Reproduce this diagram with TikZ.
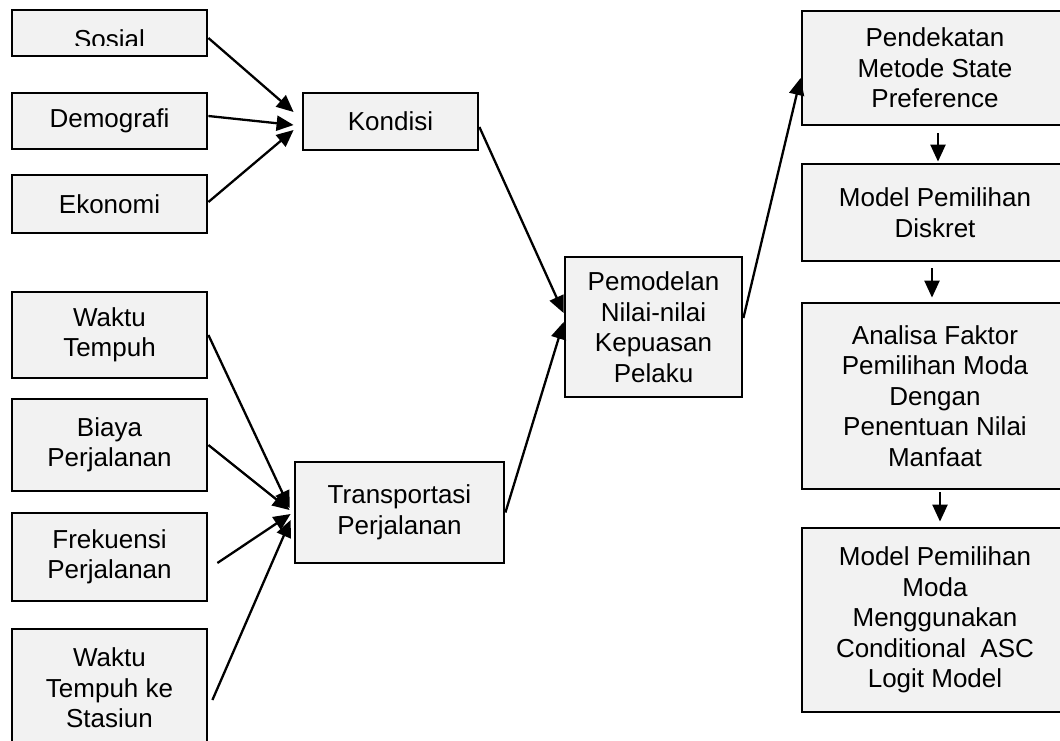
\documentclass[tikz,border=0pt]{standalone}
\usepackage{fontspec}
\setmainfont{Liberation Sans}
\usetikzlibrary{arrows.meta,positioning}
\definecolor{boxgray}{RGB}{242,242,242}

\tikzset{
  kotak/.style={draw, line width=2.8pt, fill=boxgray, align=center, inner sep=0pt,
    font=\fontsize{26}{30.5}\selectfont},
  panah/.style={line width=2.3pt, -{Triangle[length=17pt,width=15pt]}},
}

\begin{document}
\begin{tikzpicture}[x=1pt,y=-1pt]
    \clip (0,0) rectangle (1060,740);

    % Kondisi
    \node[kotak, minimum width=195pt, minimum height=46pt] (sosial) at (109.5,33) {};
    \begin{scope}
        \clip (12,10) rectangle (207,45);
        \node[font=\fontsize{26}{30.5}\selectfont, anchor=base, inner sep=0pt] (sosialtxt) at (109.5,48.5) {Sosial};
    \end{scope}
    \node[kotak, minimum width=195pt, minimum height=56pt] (demografi) at (109.5,121) {Demografi};
    \node[kotak, minimum width=195pt, minimum height=58pt] (ekonomi) at (109.5,204) {Ekonomi};
    \node[kotak, minimum width=175pt, minimum height=57pt] (kondisi) at (390.5,121.5) {Kondisi};

    % Transportasi
    \node[kotak, minimum width=195pt, minimum height=86pt] (waktu) at (109.5,335) {Waktu\\Tempuh};
    \node[kotak, minimum width=195pt, minimum height=92pt] (biaya) at (109.5,445) {Biaya\\Perjalanan};
    \node[kotak, minimum width=195pt, minimum height=88pt] (frek) at (109.5,557) {Frekuensi\\Perjalanan};
    \node[kotak, minimum width=195pt, minimum height=118pt] (stasiun) at (109.5,688) {Waktu\\Tempuh ke\\Stasiun};
    \node[kotak, minimum width=209pt, minimum height=101pt] (transp) at (399.5,512.5) {Transportasi\\Perjalanan};

    \node[kotak, minimum width=177pt, minimum height=140pt] (pemodelan) at (653.5,327) {Pemodelan\\Nilai-nilai\\Kepuasan\\Pelaku};

    % Kolom kanan
    \node[kotak, minimum width=266pt, minimum height=114pt] (pendekatan) at (935,68) {Pendekatan\\Metode State\\Preference};
    \node[kotak, minimum width=266pt, minimum height=97pt] (diskret) at (935,212.5) {Model Pemilihan\\Diskret};
    \node[kotak, minimum width=266pt, minimum height=186pt] (analisa) at (935,396) {Analisa Faktor\\Pemilihan Moda\\Dengan\\Penentuan Nilai\\Manfaat};
    \node[kotak, minimum width=266pt, minimum height=184pt] (logit) at (935,620) {Model Pemilihan\\Moda\\Menggunakan\\Conditional\ \ ASC\\Logit Model};

    % Panah
    \draw[panah] ([yshift=-5pt]sosial.east) -- ([xshift=-8pt,yshift=9.5pt]kondisi.west);
    \draw[panah] ([yshift=5pt]demografi.east) -- ([xshift=-8pt,yshift=-3.5pt]kondisi.west);
    \draw[panah] ([yshift=2pt]ekonomi.east) -- ([xshift=-8pt,yshift=-8.5pt]kondisi.west);

    \draw[panah] (waktu.east) -- ([xshift=-4pt,yshift=4.5pt]transp.west);
    \draw[panah] (biaya.east) -- ([xshift=-4pt,yshift=2.5pt]transp.west);
    \draw[panah] ([xshift=9pt,yshift=-6pt]frek.east) -- ([xshift=-3pt,yshift=-1.5pt]transp.west);
    \draw[panah] ([xshift=4pt,yshift=-12pt]stasiun.east) -- ([xshift=-3pt,yshift=-7.5pt]transp.west);

    \draw[panah] ([yshift=-5.5pt]kondisi.east) -- ([yshift=14pt]pemodelan.west);
    \draw[panah] (transp.east) -- ([yshift=5pt]pemodelan.west);
    \draw[panah] ([yshift=9pt]pemodelan.east) -- ([yshift=-10pt]pendekatan.west);

    \draw[panah] ([xshift=3pt,yshift=-7pt]pendekatan.south) -- ([xshift=3pt,yshift=1pt]diskret.north);
    \draw[panah] ([xshift=-3pt,yshift=-6pt]diskret.south) -- ([xshift=-3pt,yshift=4pt]analisa.north);
    \draw[panah] ([xshift=5pt,yshift=-2pt]analisa.south) -- ([xshift=5pt,yshift=5pt]logit.north);
\end{tikzpicture}
\end{document}
